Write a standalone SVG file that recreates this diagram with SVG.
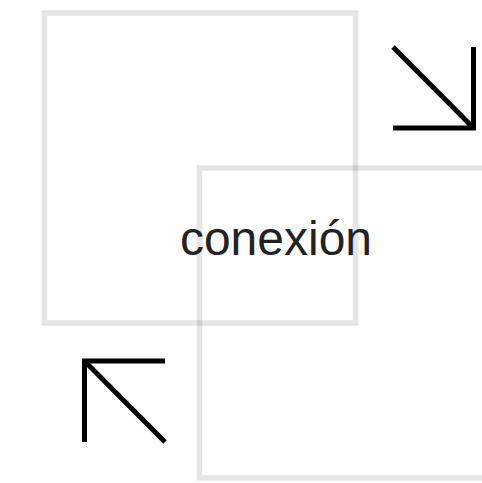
<svg xmlns="http://www.w3.org/2000/svg" width="482" height="483" viewBox="0 0 482 483">
<style>
.frame{fill:none;stroke:#000;stroke-opacity:0.1;stroke-width:5.5}
.arrow{fill:none;stroke:#000;stroke-width:5}
.label{font-family:"Liberation Sans",Arial,Helvetica,sans-serif;font-size:48px;fill:#222;text-anchor:middle}
</style>
<rect width="482" height="483" fill="#fff"/>
<g id="frame-a"><rect class="frame" x="44.5" y="13" width="311" height="310"/></g>
<g id="frame-b"><rect class="frame" x="199.5" y="168" width="311" height="310"/></g>
<g id="connectors">
<polyline class="arrow" points="393,128 473.5,128 473.5,47"/>
<line class="arrow" x1="393" y1="47" x2="473.5" y2="128"/>
<polyline class="arrow" points="84.5,442 84.5,361 165,361"/>
<line class="arrow" x1="84.5" y1="361" x2="165" y2="442"/>
</g>
<g id="label"><text class="label" x="276" y="255">conexión</text></g>
</svg>
